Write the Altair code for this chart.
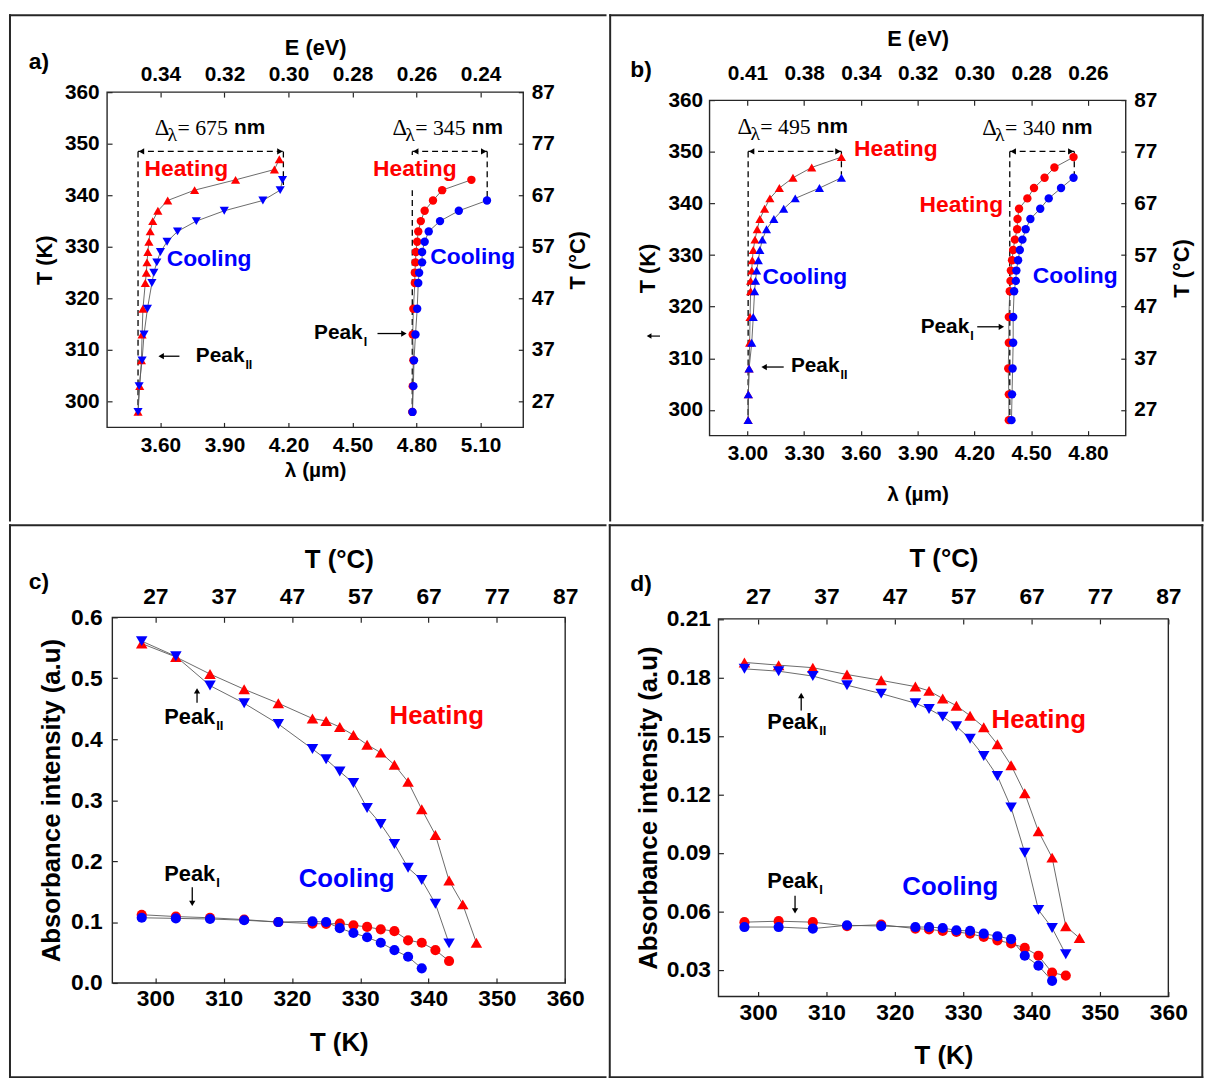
import json
import altair as alt
import pandas as pd

FONT = "Liberation Sans"
SERIF = "Liberation Serif"
RED = "#ff0000"
BLUE = "#0000ff"
LINE = "#5a5a5a"
INK = "#000000"
EDGE = "#262626"

# ---------------- panel a : wavelength (um) vs T (K) ----------------
A_HT_T = [298, 303, 308, 313, 318, 323, 325, 327, 329, 331, 333, 335, 337, 339, 341, 343, 345, 347]
A_HT_L = [3.495, 3.503, 3.511, 3.514, 3.518, 3.529, 3.534, 3.537, 3.541, 3.546, 3.552, 3.564, 3.588, 3.634, 3.760, 3.952, 4.134, 4.157]
A_CT_T = [298, 303, 308, 313, 318, 323, 325, 327, 329, 331, 333, 335, 337, 339, 341, 343]
A_CT_L = [3.495, 3.500, 3.514, 3.523, 3.539, 3.560, 3.569, 3.583, 3.600, 3.631, 3.680, 3.768, 3.899, 4.080, 4.161, 4.172]
A_HC_T = [298, 303, 308, 313, 318, 323, 325, 327, 329, 331, 333, 335, 337, 339, 341, 343]
A_HC_L = [4.780, 4.782, 4.785, 4.782, 4.785, 4.792, 4.792, 4.795, 4.797, 4.803, 4.808, 4.820, 4.838, 4.877, 4.920, 5.057]
A_CC_T = [298, 303, 308, 313, 318, 323, 325, 327, 329, 331, 333, 335, 337, 339]
A_CC_L = [4.781, 4.785, 4.788, 4.795, 4.803, 4.808, 4.812, 4.826, 4.826, 4.838, 4.857, 4.910, 4.998, 5.130]

# ---------------- panel b ----------------
B_HT_T = [298, 303, 308, 313, 318, 323, 325, 327, 329, 331, 333, 335, 337, 339, 341, 343, 345, 347, 349]
B_HT_L = [3.004, 3.005, 3.009, 3.012, 3.014, 3.017, 3.017, 3.023, 3.026, 3.031, 3.040, 3.052, 3.066, 3.091, 3.119, 3.169, 3.241, 3.340, 3.497]
B_CT_T = [298, 303, 308, 313, 318, 323, 325, 327, 329, 331, 333, 335, 337, 339, 341, 343, 345]
B_CT_L = [3.004, 3.005, 3.009, 3.023, 3.031, 3.038, 3.043, 3.049, 3.058, 3.066, 3.079, 3.101, 3.140, 3.192, 3.253, 3.381, 3.497]
B_HC_T = [298, 303, 308, 313, 318, 323, 325, 327, 329, 331, 333, 335, 337, 339, 341, 343, 345, 347, 349]
B_HC_L = [4.382, 4.382, 4.379, 4.382, 4.382, 4.387, 4.391, 4.393, 4.399, 4.405, 4.414, 4.426, 4.428, 4.436, 4.480, 4.515, 4.571, 4.623, 4.724]
B_CC_T = [298, 303, 308, 313, 318, 323, 325, 327, 329, 331, 333, 335, 337, 339, 341, 343, 345]
B_CC_L = [4.396, 4.399, 4.402, 4.405, 4.405, 4.410, 4.419, 4.422, 4.431, 4.440, 4.454, 4.471, 4.496, 4.548, 4.593, 4.658, 4.724]

# ---------------- panel c : absorbance vs T ----------------
C_HT_T = [298, 303, 308, 313, 318, 323, 325, 327, 329, 331, 333, 335, 337, 339, 341, 343, 345, 347]
C_HT_A = [0.557, 0.535, 0.507, 0.482, 0.459, 0.434, 0.430, 0.420, 0.407, 0.391, 0.378, 0.358, 0.330, 0.285, 0.243, 0.168, 0.129, 0.066]
C_CT_T = [298, 303, 308, 313, 318, 323, 325, 327, 329, 331, 333, 335, 337, 339, 341, 343]
C_CT_A = [0.561, 0.536, 0.488, 0.459, 0.425, 0.384, 0.367, 0.347, 0.328, 0.287, 0.261, 0.228, 0.189, 0.169, 0.130, 0.065]
C_HC_T = [298, 303, 308, 313, 318, 323, 325, 327, 329, 331, 333, 335, 337, 339, 341, 343]
C_HC_A = [0.112, 0.109, 0.107, 0.104, 0.100, 0.0975, 0.097, 0.0975, 0.0947, 0.092, 0.088, 0.085, 0.070, 0.066, 0.054, 0.036]
C_CC_T = [298, 303, 308, 313, 318, 323, 325, 327, 329, 331, 333, 335, 337, 339]
C_CC_A = [0.107, 0.106, 0.105, 0.103, 0.100, 0.101, 0.100, 0.090, 0.082, 0.075, 0.066, 0.054, 0.043, 0.024]

# ---------------- panel d ----------------
D_HT_T = [298, 303, 308, 313, 318, 323, 325, 327, 329, 331, 333, 335, 337, 339, 341, 343, 345, 347]
D_HT_A = [0.1877, 0.1863, 0.1850, 0.1815, 0.1785, 0.1753, 0.1731, 0.1692, 0.1655, 0.1604, 0.1545, 0.1457, 0.1350, 0.1206, 0.1011, 0.0876, 0.0524, 0.0464]
D_CT_T = [298, 303, 308, 313, 318, 323, 325, 327, 329, 331, 333, 335, 337, 339, 341, 343, 345]
D_CT_A = [0.1844, 0.1832, 0.1807, 0.1760, 0.1717, 0.1668, 0.1638, 0.1599, 0.1550, 0.1485, 0.1397, 0.1294, 0.1133, 0.0901, 0.0608, 0.0515, 0.0380]
D_HC_T = [298, 303, 308, 313, 318, 323, 325, 327, 329, 331, 333, 335, 337, 339, 341, 343, 345]
D_HC_A = [0.0545, 0.0550, 0.0545, 0.0525, 0.0532, 0.0512, 0.0508, 0.0500, 0.0495, 0.0486, 0.0469, 0.0452, 0.0436, 0.0413, 0.0373, 0.0286, 0.0271]
D_CC_T = [298, 303, 308, 313, 318, 323, 325, 327, 329, 331, 333, 335, 337, 339, 341, 343]
D_CC_A = [0.0520, 0.0520, 0.0512, 0.0529, 0.0525, 0.0520, 0.0520, 0.0515, 0.0503, 0.0500, 0.0486, 0.0473, 0.0458, 0.0373, 0.0322, 0.0244]

# ---------------- ticks and tick labels ----------------
A_LAM_TICKS = [3.6, 3.9, 4.2, 4.5, 4.8, 5.1]
A_E_LABELS = ["0.34", "0.32", "0.30", "0.28", "0.26", "0.24"]
B_LAM_TICKS = [3.0, 3.3, 3.6, 3.9, 4.2, 4.5, 4.8]
B_E_LABELS = ["0.41", "0.38", "0.34", "0.32", "0.30", "0.28", "0.26"]
TK_TICKS = [300, 310, 320, 330, 340, 350, 360]
TC_LABELS = ["27", "37", "47", "57", "67", "77", "87"]
C_A_TICKS = [0.0, 0.1, 0.2, 0.3, 0.4, 0.5, 0.6]
D_A_TICKS = [0.03, 0.06, 0.09, 0.12, 0.15, 0.18, 0.21]

# ---------------- annotations (data coordinates) ----------------
A_TEXTS = [("Heating", 3.721, 345.0, RED), ("Cooling", 3.828, 327.6, BLUE),
           ("Heating", 4.792, 345.0, RED), ("Cooling", 5.063, 328.0, BLUE)]
B_TEXTS = [("Heating", 3.785, 350.6, RED), ("Heating", 4.131, 339.8, RED),
           ("Cooling", 3.304, 325.7, BLUE), ("Cooling", 4.733, 325.9, BLUE)]
C_TEXTS = [("Heating", 341.2, 0.4387, RED), ("Cooling", 328.0, 0.1706, BLUE)]
D_TEXTS = [("Heating", 341.05, 0.1579, RED), ("Cooling", 328.1, 0.0723, BLUE)]

A_PEAKS = [("II", 3.766, 308.8), ("I", 4.320, 313.2)]
B_PEAKS = [("II", 3.230, 308.4), ("I", 3.916, 316.1)]
C_PEAKS = [("II", 301.3, 0.436), ("I", 301.3, 0.1787)]
D_PEAKS = [("II", 301.35, 0.157), ("I", 301.35, 0.0757)]

A_ARROWS_H = [(3.689, 3.587, 308.8), (4.617, 4.757, 313.2)]
B_ARROWS_H = [(3.192, 3.070, 308.3), (4.215, 4.361, 316.1)]
C_ARROWS_V = [(306.1, 0.460, 0.485), (305.4, 0.157, 0.125)]
D_ARROWS_V = [(306.3, 0.163, 0.1725), (305.4, 0.0681, 0.0585)]

A_BRACKETS = [(3.495, 4.176, 348.5, 297.0, 342.0, None),
              (4.780, 5.131, 348.5, 297.5, 339.6, (347.8, 341.0))]
B_BRACKETS = [(3.004, 3.497, 350.1, 297.6, 345.6, None),
              (4.387, 4.728, 350.1, 297.6, 345.0, None)]
A_DELTAS = [("675", 3.573, 353.1), ("345", 4.687, 353.1)]
B_DELTAS = [("495", 2.948, 354.9), ("340", 4.241, 354.6)]

ONE = pd.DataFrame({"k": [0]})


def mk_df(series):
    rows = []
    for name, xs, ys in series:
        for i, (a, b) in enumerate(zip(xs, ys)):
            rows.append({"s": name, "x": a, "y": b, "o": i})
    return pd.DataFrame(rows)


def axis(orient, values, title, lsize, tsize, lpad, tpad, label_expr=None, fmt=None,
         title_angle=None, title_baseline=None, inset=0.0):
    kw = dict(orient=orient, values=values, title=title, domain=False, grid=False,
              ticks=True, tickSize=5, tickWidth=1.2, tickColor=EDGE, offset=-5 - inset,
              labelFont=FONT, labelFontSize=lsize, labelFontWeight="bold", labelColor=INK,
              labelPadding=lpad + inset, labelFlush=False, labelOverlap=False,
              titleFont=FONT, titleFontSize=tsize, titleFontWeight="bold", titleColor=INK,
              titlePadding=tpad)
    if label_expr:
        kw["labelExpr"] = label_expr
    if fmt:
        kw["format"] = fmt
    if title_angle is not None:
        kw["titleAngle"] = title_angle
    if title_baseline:
        kw["titleBaseline"] = title_baseline
    return alt.Axis(**kw)


def cell(fr, edges, w=2.0):
    x1, x2, y1, y2 = fr
    h = w / 2
    out = [alt.Chart(ONE).mark_rect(opacity=0).encode(
        x=alt.value(x1), x2=alt.value(x2), y=alt.value(y1), y2=alt.value(y2))]

    def r(**e):
        return alt.Chart(ONE).mark_rule(color=EDGE, strokeWidth=w).encode(
            **{k: alt.value(v) for k, v in e.items()})
    if "L" in edges:
        out.append(r(x=x1 + h, y=y1, y2=y2))
    if "R" in edges:
        out.append(r(x=x2 - h, y=y1, y2=y2))
    if "T" in edges:
        out.append(r(x=x1, x2=x2, y=y1 + h))
    if "B" in edges:
        out.append(r(x=x1, x2=x2, y=y2 - h))
    return out


def panel(P):
    xr, yr = P["xr"], P["yr"]          # pixel ranges inside the view
    xs = alt.Scale(domain=P["xdom"], range=xr, nice=False, zero=False)
    ys = alt.Scale(domain=P["ydom"], range=yr, nice=False, zero=False)
    W, H = P["W"], P["H"]
    ux = (P["xdom"][1] - P["xdom"][0]) / (xr[1] - xr[0])
    uy = (P["ydom"][1] - P["ydom"][0]) / (yr[0] - yr[1])
    df = mk_df(P["series"])

    def X(f="x"):
        return alt.X(f"{f}:Q", scale=xs, axis=None)

    def Y(f="y"):
        return alt.Y(f"{f}:Q", scale=ys, axis=None)

    def text(x, y, s, xpix=False, ypix=False, **mk):
        d = pd.DataFrame({"x": [x], "y": [y]})
        ex = alt.value(x) if xpix else X()
        ey = alt.value(y) if ypix else Y()
        return alt.Chart(d).mark_text(text=s, **mk).encode(x=ex, y=ey)

    def seg(x1, y1, x2, y2, dash=None, w=1.3):
        d = pd.DataFrame({"x": [x1], "y": [y1], "x2": [x2], "y2": [y2]})
        mk = dict(color=INK, strokeWidth=w)
        if dash:
            mk["strokeDash"] = dash
        return alt.Chart(d).mark_rule(**mk).encode(x=X(), y=Y(), x2="x2:Q", y2="y2:Q")

    def head(x, y, shape, size=45, xpix=False):
        d = pd.DataFrame({"x": [x], "y": [y]})
        ex = alt.value(x) if xpix else X()
        return alt.Chart(d).mark_point(shape=shape, filled=True, color=INK, size=size,
                                       opacity=1, strokeWidth=0).encode(x=ex, y=Y())

    L = []
    L += cell(P["frame"], P["edges"])
    # plot frame
    L.append(alt.Chart(ONE).mark_rect(fillOpacity=0, stroke=EDGE, strokeWidth=1.4).encode(
        x=alt.value(xr[0]), x2=alt.value(xr[1]), y=alt.value(yr[1]), y2=alt.value(yr[0])))

    # dashed brackets
    for (l, r, yb, lbot, rbot, gap) in P.get("brackets", []):
        dash = [6, 4]
        L.append(seg(l, yb, r, yb, dash))
        if gap:
            L.append(seg(l, yb, l, gap[0], dash))
            L.append(seg(l, gap[1], l, lbot, dash))
        else:
            L.append(seg(l, yb, l, lbot, dash))
        L.append(seg(r, yb, r, rbot, dash))
        L.append(head(l + 3.5 * ux, yb, "triangle-left", 40))
        L.append(head(r - 3.5 * ux, yb, "triangle-right", 40))

    # connecting lines (carry bottom/left axes)
    L.append(alt.Chart(df).mark_line(color=LINE, strokeWidth=0.9).encode(
        x=alt.X("x:Q", scale=xs, axis=P["ax_bottom"]),
        y=alt.Y("y:Q", scale=ys, axis=P["ax_left"]),
        detail="s:N", order="o:Q"))

    # markers (first carries top/right axes)
    for i, (name, shape, color, size) in enumerate(P["markers"]):
        xa = P["ax_top"] if i == 0 else None
        ya = P.get("ax_right") if i == 0 else None
        L.append(alt.Chart(df).transform_filter(alt.datum.s == name).mark_point(
            shape=shape, filled=True, color=color, size=size, opacity=1, strokeWidth=0).encode(
            x=alt.X("x:Q", scale=xs, axis=xa), y=alt.Y("y:Q", scale=ys, axis=ya)))

    for s, x, y, c in P["texts"]:
        L.append(text(x, y, s, font=FONT, fontSize=P["hsize"], fontWeight="bold", color=c,
                      align="center", baseline="middle"))

    for sub, x, y in P["peaks"]:
        L.append(text(x, y, "Peak", font=FONT, fontSize=P["psize"], fontWeight="bold",
                      color=INK, align="left", baseline="middle"))
        L.append(text(x, y, sub, font=FONT, fontSize=P["psize"] * 0.6, fontWeight="bold",
                      color=INK, align="left", baseline="middle",
                      dx=P["psize"] * 2.38, dy=P["psize"] * 0.42))

    for tail, tip, y in P.get("arrows_h", []):
        sgn = 1 if tip < tail else -1
        L.append(seg(tail, y, tip + sgn * 4 * ux, y, None, 1.3))
        L.append(head(tip + sgn * 3.5 * ux, y, "triangle-left" if sgn == 1 else "triangle-right", 40))
    for x, tail, tip in P.get("arrows_v", []):
        sgn = -1 if tip > tail else 1
        L.append(seg(x, tail, x, tip + sgn * 4 * uy, None, 1.3))
        L.append(head(x, tip + sgn * 3.5 * uy, "triangle-up" if sgn == -1 else "triangle-down", 40))

    # small arrow drawn beside the axis (pixel x, data y)
    for xtail, xtip, y in P.get("side_arrows", []):
        d = pd.DataFrame({"y": [y]})
        L.append(alt.Chart(d).mark_rule(color=INK, strokeWidth=1.2).encode(
            x=alt.value(xtail), x2=alt.value(xtip + 4), y=Y()))
        L.append(head(xtip + 3, y, "triangle-left", 30, xpix=True))

    for val, x, y in P.get("deltas", []):
        L.append(text(x, y, "Δ", font=SERIF, fontSize=23, color=INK, align="left", baseline="middle"))
        L.append(text(x, y, "λ", font=SERIF, fontSize=20, color=INK, align="left",
                      baseline="middle", dx=13, dy=7))
        L.append(text(x, y, "= " + val, font=SERIF, fontSize=22, color=INK, align="left",
                      baseline="middle", dx=23))
        L.append(text(x, y, "nm", font=FONT, fontSize=21, fontWeight="bold", color=INK,
                      align="left", baseline="middle", dx=80))

    for s, x, y, xpix, ypix, fs in P.get("extra", []):
        L.append(text(x, y, s, xpix=xpix, ypix=ypix, font=FONT, fontSize=fs,
                      fontWeight="bold", color=INK, align="left", baseline="middle"))

    return alt.layer(*L).properties(width=W, height=H).resolve_scale(
        x="shared", y="shared").resolve_axis(x="independent", y="independent")


def tc_expr(first, step):
    return f"{json.dumps(TC_LABELS)}[round((datum.value - {first}) / {step})]"


def e_expr(labels, first):
    return f"{json.dumps(labels)}[round((datum.value - {first}) / 0.3)]"


# view origins: a (107, 86.7), b (712.3, 86.7), c (107, 614), d (721.7, 614)
PA = dict(
    W=420, H=338.3, xr=[0, 420], yr=[338.3, 0], xdom=[3.35, 5.3], ydom=[295, 360],
    frame=(-99, 504, -78.7, 433.3), edges="LT",
    series=[("ht", A_HT_L, A_HT_T), ("ct", A_CT_L, A_CT_T), ("hc", A_HC_L, A_HC_T), ("cc", A_CC_L, A_CC_T)],
    markers=[("ht", "triangle-up", RED, 85), ("hc", "circle", RED, 72),
             ("ct", "triangle-down", BLUE, 85), ("cc", "circle", BLUE, 72)],
    ax_bottom=axis("bottom", A_LAM_TICKS, "λ (µm)", 21, 21, 7, 5, fmt=".2f"),
    ax_left=axis("left", TK_TICKS, "T (K)", 21, 22, 8, 8, fmt="d"),
    ax_top=axis("top", A_LAM_TICKS, "E (eV)", 21, 22, 8, 4, label_expr=e_expr(A_E_LABELS, 3.6)),
    ax_right=axis("right", TK_TICKS, "T (°C)", 21, 22, 8, 13, label_expr=tc_expr(300, 10),
                  title_angle=270, title_baseline="top"),
    texts=A_TEXTS, hsize=23, peaks=A_PEAKS, psize=21,
    arrows_h=A_ARROWS_H, brackets=A_BRACKETS, deltas=A_DELTAS,
    extra=[("a)", -79, -30, True, True, 23)],
)

PB = dict(
    W=420, H=346.6, xr=[0, 420], yr=[346.6, 8.3], xdom=[2.8, 5.0], ydom=[295, 360],
    frame=(-101.3, 498.7, -78.7, 433.3), edges="LTR",
    series=[("ht", B_HT_L, B_HT_T), ("ct", B_CT_L, B_CT_T), ("hc", B_HC_L, B_HC_T), ("cc", B_CC_L, B_CC_T)],
    markers=[("ht", "triangle-up", RED, 85), ("hc", "circle", RED, 72),
             ("ct", "triangle-up", BLUE, 85), ("cc", "circle", BLUE, 72)],
    ax_bottom=axis("bottom", B_LAM_TICKS, "λ (µm)", 21, 21, 7, 20, fmt=".2f"),
    ax_left=axis("left", TK_TICKS, "T (K)", 21, 22, 7, 9, fmt="d"),
    ax_top=axis("top", B_LAM_TICKS, "E (eV)", 21, 22, 9, 12, label_expr=e_expr(B_E_LABELS, 3.0),
                inset=8.3),
    ax_right=axis("right", TK_TICKS, "T (°C)", 21, 22, 8, 15, label_expr=tc_expr(300, 10),
                  title_angle=270, title_baseline="top"),
    texts=B_TEXTS, hsize=23, peaks=B_PEAKS, psize=21,
    arrows_h=B_ARROWS_H, brackets=B_BRACKETS, deltas=B_DELTAS,
    side_arrows=[(-50, -64, 314.3)],
    extra=[("b)", -80, -22, True, True, 23)],
)

PC = dict(
    W=462.3, H=369, xr=[5.3, 462.3], yr=[369, 0], xdom=[293.7, 360], ydom=[0, 0.6],
    frame=(-99, 504, -94, 465), edges="LTB",
    series=[("ht", C_HT_T, C_HT_A), ("ct", C_CT_T, C_CT_A), ("hc", C_HC_T, C_HC_A), ("cc", C_CC_T, C_CC_A)],
    markers=[("ht", "triangle-up", RED, 135), ("hc", "circle", RED, 105),
             ("ct", "triangle-down", BLUE, 135), ("cc", "circle", BLUE, 105)],
    ax_bottom=axis("bottom", TK_TICKS, "T (K)", 23, 26, 5, 19, fmt="d"),
    ax_left=axis("left", C_A_TICKS, "Absorbance intensity (a.u)", 23, 26, 5, 6, fmt=".1f", inset=5.3),
    ax_top=axis("top", TK_TICKS, "T (°C)", 23, 26, 9, 13, label_expr=tc_expr(300, 10)),
    texts=C_TEXTS, hsize=26, peaks=C_PEAKS, psize=22,
    arrows_v=C_ARROWS_V,
    extra=[("c)", -79, -36, True, True, 23)],
)

PD = dict(
    W=454, H=382.6, xr=[0, 454], yr=[382.6, 1.6], xdom=[294.2, 360], ydom=[0.0164, 0.21],
    frame=(-110.7, 489.3, -94, 465), edges="LTRB",
    series=[("ht", D_HT_T, D_HT_A), ("ct", D_CT_T, D_CT_A), ("hc", D_HC_T, D_HC_A), ("cc", D_CC_T, D_CC_A)],
    markers=[("ht", "triangle-up", RED, 135), ("hc", "circle", RED, 105),
             ("ct", "triangle-down", BLUE, 135), ("cc", "circle", BLUE, 105)],
    ax_bottom=axis("bottom", TK_TICKS, "T (K)", 23, 26, 5, 19, fmt="d"),
    ax_left=axis("left", D_A_TICKS, "Absorbance intensity (a.u)", 23, 26, 8, 5, fmt=".2f"),
    ax_top=axis("top", TK_TICKS, "T (°C)", 23, 26, 9, 14, label_expr=tc_expr(300, 10), inset=1.6),
    texts=D_TEXTS, hsize=26, peaks=D_PEAKS, psize=22,
    arrows_v=D_ARROWS_V,
    extra=[("d)", -89, -34, True, True, 23)],
)

chart = alt.vconcat(
    alt.hconcat(panel(PA), panel(PB), spacing=0),
    alt.hconcat(panel(PC), panel(PD), spacing=0),
    spacing=0,
).properties(padding=0, background="white").configure_view(stroke=None, fill=None)

chart.save("out.html", embed_options={"renderer": "svg", "actions": False})
